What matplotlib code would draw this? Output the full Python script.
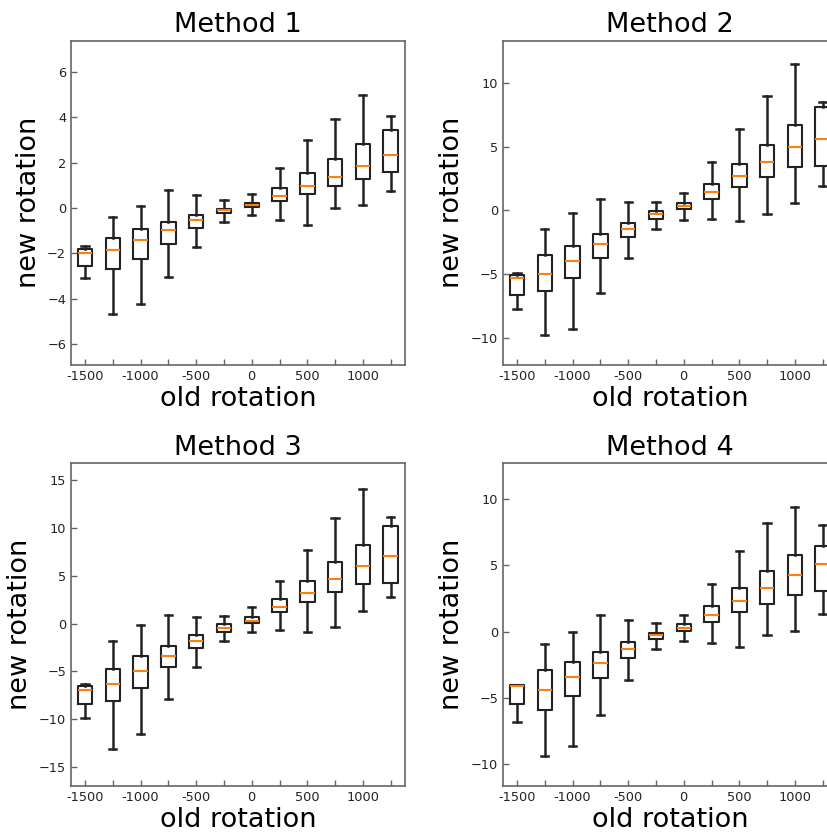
import matplotlib
matplotlib.use("Agg")
import matplotlib.pyplot as plt

# box positions (old rotation) and tick labels
positions = [-1500, -1250, -1000, -750, -500, -250, 0, 250, 500, 750, 1000, 1250]
xtick_labels = ['-1500', '', '-1000', '', '-500', '', '0', '', '500', '', '1000', '']

titles = ['Method 1', 'Method 2', 'Method 3', 'Method 4']

# Method 1: whisker low, q1, median, q3, whisker high
m1_low = [-3.11, -4.66, -4.22, -3.04, -1.72, -0.60, -0.32, -0.52, -0.74, 0.01, 0.14, 0.73]
m1_q1 = [-2.58, -2.70, -2.26, -1.58, -0.88, -0.24, 0.04, 0.29, 0.63, 0.98, 1.26, 1.58]
m1_med = [-2.00, -1.86, -1.42, -0.98, -0.52, -0.11, 0.12, 0.52, 0.96, 1.38, 1.86, 2.33]
m1_q3 = [-1.83, -1.33, -0.94, -0.60, -0.30, -0.04, 0.24, 0.86, 1.54, 2.16, 2.82, 3.44]
m1_high = [-1.66, -0.42, 0.08, 0.80, 0.58, 0.35, 0.63, 1.76, 2.98, 3.92, 4.98, 4.06]

# Method 2
m2_low = [-7.77, -9.79, -9.29, -6.51, -3.76, -1.48, -0.72, -0.67, -0.85, -0.25, 0.62, 1.95]
m2_q1 = [-6.62, -6.30, -5.33, -3.76, -2.06, -0.67, 0.12, 0.93, 1.85, 2.63, 3.42, 3.47]
m2_med = [-5.28, -4.97, -3.94, -2.63, -1.45, -0.25, 0.35, 1.48, 2.69, 3.84, 4.99, 5.62]
m2_q3 = [-5.07, -3.53, -2.77, -1.85, -0.96, -0.07, 0.62, 2.11, 3.68, 5.18, 6.75, 8.11]
m2_high = [-4.94, -1.48, -0.17, 0.90, 0.69, 0.69, 1.40, 3.79, 6.38, 9.00, 11.52, 8.56]

# Method 3
m3_low = [-9.87, -13.12, -11.58, -7.92, -4.53, -1.78, -0.87, -0.70, -0.87, -0.31, 1.33, 2.76]
m3_q1 = [-8.41, -8.13, -6.70, -4.57, -2.55, -0.84, 0.07, 1.22, 2.27, 3.35, 4.15, 4.26]
m3_med = [-6.91, -6.28, -4.95, -3.35, -1.78, -0.42, 0.31, 1.74, 3.24, 4.71, 6.07, 7.05]
m3_q3 = [-6.56, -4.71, -3.42, -2.37, -1.22, -0.03, 0.73, 2.55, 4.47, 6.42, 8.23, 10.22]
m3_high = [-6.28, -1.81, -0.17, 0.94, 0.73, 0.84, 1.78, 4.50, 7.71, 11.02, 14.13, 11.13]

# Method 4
m4_low = [-6.86, -9.42, -8.67, -6.30, -3.64, -1.35, -0.69, -0.87, -1.14, -0.29, 0.04, 1.32]
m4_q1 = [-5.50, -5.95, -4.89, -3.48, -2.00, -0.59, 0.01, 0.74, 1.50, 2.10, 2.75, 3.03]
m4_med = [-4.08, -4.41, -3.43, -2.38, -1.30, -0.24, 0.26, 1.25, 2.30, 3.28, 4.26, 5.12]
m4_q3 = [-4.06, -2.88, -2.30, -1.57, -0.79, -0.09, 0.54, 1.90, 3.31, 4.57, 5.75, 6.45]
m4_high = [-4.02, -0.94, -0.04, 1.25, 0.84, 0.64, 1.27, 3.61, 6.08, 8.21, 9.40, 8.04]

methods = [
    (m1_low, m1_q1, m1_med, m1_q3, m1_high),
    (m2_low, m2_q1, m2_med, m2_q3, m2_high),
    (m3_low, m3_q1, m3_med, m3_q3, m3_high),
    (m4_low, m4_q1, m4_med, m4_q3, m4_high),
]
ylims = [(-6.93, 7.38), (-12.15, 13.35), (-17.0, 16.8), (-11.66, 12.72)]
yticks = [[-6, -4, -2, 0, 2, 4, 6], [-10, -5, 0, 5, 10],
          [-15, -10, -5, 0, 5, 10, 15], [-10, -5, 0, 5, 10]]

W, H = 827, 838
fig = plt.figure(figsize=(W / 100, H / 100), dpi=100)

# axes boxes in pixels: left, top, right, bottom
boxes = [(71, 40.7, 405, 365), (503, 40.7, 837, 365),
         (71, 463, 405, 786), (503, 463, 837, 786)]

line_col = '#222222'
spine_col = '#666666'

for i, (l, t, r, b) in enumerate(boxes):
    ax = fig.add_axes([l / W, 1 - b / H, (r - l) / W, (b - t) / H])
    low, q1, med, q3, high = methods[i]
    stats = []
    for k in range(len(positions)):
        stats.append({'whislo': low[k], 'q1': q1[k], 'med': med[k],
                      'q3': q3[k], 'whishi': high[k], 'fliers': []})
    ax.bxp(stats, positions=positions, widths=130, showfliers=False,
           boxprops=dict(color=line_col, linewidth=1.5),
           whiskerprops=dict(color=line_col, linewidth=1.8),
           capprops=dict(color=line_col, linewidth=1.8),
           medianprops=dict(color='#ff7f0e', linewidth=1.5))
    ax.set_xlim(-1626, 1379)
    ax.set_ylim(*ylims[i])
    ax.set_xticks(positions)
    ax.set_xticklabels(xtick_labels)
    ax.set_yticks(yticks[i])
    ax.tick_params(direction='in', length=4, width=1, color=spine_col,
                   labelsize=9.3, labelcolor='#222222')
    for s in ax.spines.values():
        s.set_color(spine_col)
        s.set_linewidth(1.2)
    ax.set_title(titles[i], fontsize=19.5, pad=6)
    ax.set_xlabel('old rotation', fontsize=19.5, labelpad=2)
    ax.set_ylabel('new rotation', fontsize=19.5, labelpad=4)

fig.savefig('out.png', dpi=100)
